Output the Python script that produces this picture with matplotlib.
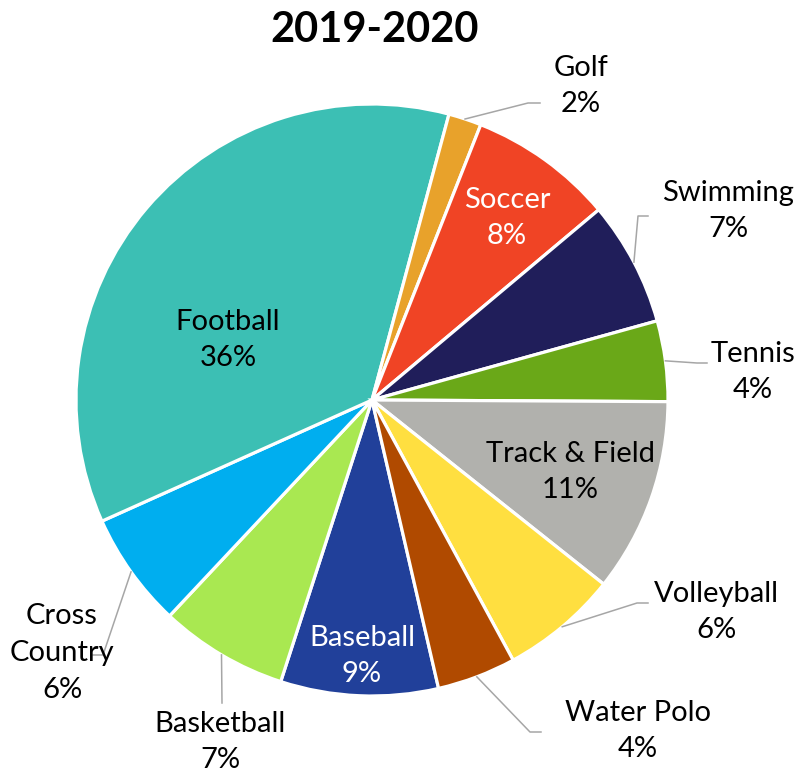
import numpy as np
import matplotlib
matplotlib.use("Agg")
import matplotlib.pyplot as plt

# share of athletes by sport, 2019-2020 (alphabetical, as in the source sheet)
sports = ["Baseball", "Basketball", "Cross\nCountry", "Football", "Golf", "Soccer",
          "Swimming", "Tennis", "Track & Field", "Volleyball", "Water Polo"]
shares = [8.6, 7.0, 6.3, 35.9, 1.8, 7.9, 6.8, 4.4, 10.6, 6.4, 4.3]
colors = ["#21409A", "#A9E851", "#00AEEF", "#3CBFB4", "#E8A22B", "#F04425",
          "#201E5A", "#6AA818", "#B1B1AD", "#FFDF40", "#B04A00"]

W, H = 796, 777
cx, cy, R = 372, H - 400, 296

# label layout in pixels (x, y from top); inside labels have no leader
inside = {"Football": ((228, 340), "black"), "Soccer": ((507, 218), "white"),
          "Baseball": ((362, 656), "white"), "Track & Field": ((570, 472), "black")}
outside = {"Golf": ((581, 86), (528, 103), (540, 103)),
           "Swimming": ((728, 211), (638, 216), (648, 216)),
           "Tennis": ((753, 372), (697, 363), (707, 363)),
           "Volleyball": ((716, 612), (637, 603), (648, 603)),
           "Water Polo": ((638, 731), (530, 732), (541, 732)),
           "Basketball": ((220, 742), (222, 703), (222, 703)),
           "Cross\nCountry": ((62, 653), (103, 655), (93, 655))}

plt.rcParams["font.family"] = ["Lato", "DejaVu Sans"]

fig = plt.figure(figsize=(W / 100, H / 100), dpi=100)
ax = fig.add_axes([0, 0, 1, 1])

wedges, _ = ax.pie(shares, colors=colors, center=(cx, cy), radius=R,
                   startangle=-77, counterclock=False,
                   wedgeprops=dict(edgecolor="white", linewidth=2.3))
ax.set_xlim(0, W)
ax.set_ylim(0, H)
ax.set_aspect("equal")
ax.axis("off")

fs = 21
for name, val, w in zip(sports, shares, wedges):
    txt = f"{name}\n{round(val):d}%"
    if name in inside:
        (x, y), c = inside[name]
        ax.text(x, H - y, txt, ha="center", va="center", fontsize=fs,
                color=c, linespacing=1.5)
    else:
        (x, y), (ex, ey), (tx, ty) = outside[name]
        mid = np.deg2rad((w.theta1 + w.theta2) / 2)
        sx, sy = cx + R * np.cos(mid), cy + R * np.sin(mid)
        ax.plot([sx, ex, tx], [sy, H - ey, H - ty], color="#A6A6A6", lw=1.1)
        ax.text(x, H - y, txt, ha="center", va="center", fontsize=fs,
                color="black", linespacing=1.5)

ax.text(375, H - 30, "2019-2020", ha="center", va="center",
        fontsize=30, fontweight="bold")

fig.savefig("out.png", dpi=100)
